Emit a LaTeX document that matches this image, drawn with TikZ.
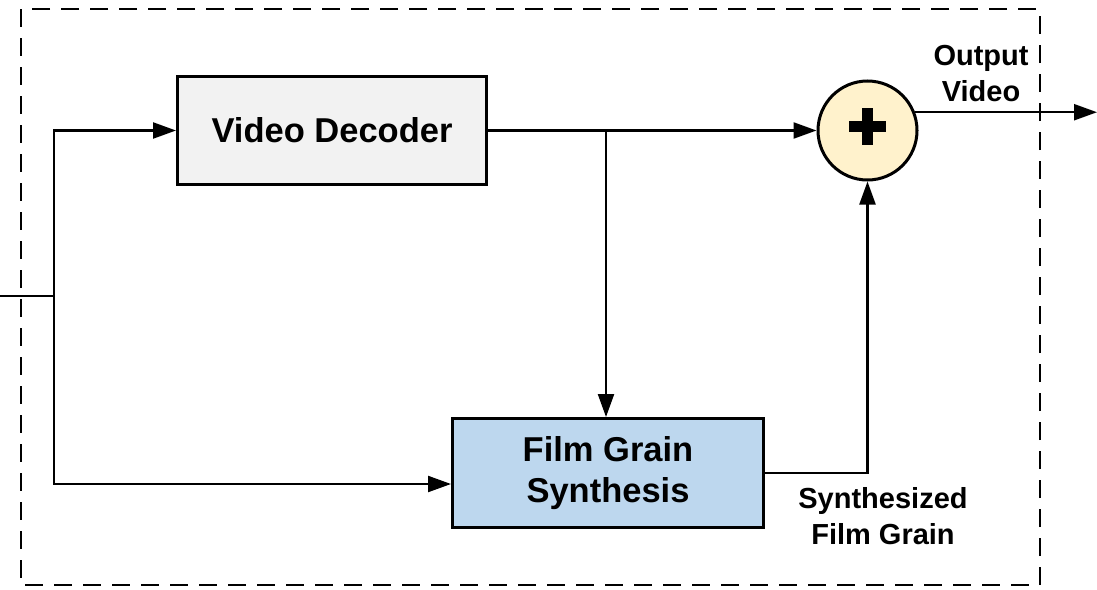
\documentclass[tikz,border=0pt]{standalone}
\usepackage{fontspec}
\setmainfont{Liberation Sans}
\usetikzlibrary{arrows.meta,calc}
\definecolor{decgray}{HTML}{F2F2F2}
\definecolor{fgblue}{HTML}{BDD7EE}
\definecolor{sumyellow}{HTML}{FFF2CC}
\begin{document}
\begin{tikzpicture}[x=1pt,y=-1pt,
  blk/.style={draw, line width=3pt, minimum width=309pt, minimum height=108pt,
    font=\fontsize{34.5}{41}\selectfont\bfseries, align=center, inner sep=0pt},
  conn/.style={line width=2.3pt, -{Triangle[length=23pt,width=16pt]}},
  wire/.style={line width=2.3pt},
  lbl/.style={font=\fontsize{29}{36}\selectfont\bfseries, align=center, inner sep=0pt},
  frame/.style={line width=2.7pt, dash pattern=on 18pt off 11pt}]
\useasboundingbox (0,0) rectangle (1097,589);
% dashed frame
\draw[frame] (21,9) rectangle (1040,585);
% blocks
\node[blk, fill=decgray] (dec) at (332,130.5) {Video Decoder};
\node[blk, fill=fgblue, minimum width=311pt, minimum height=109pt] (fg) at (608,473) {Film Grain\\Synthesis};
\node[draw, circle, line width=3pt, fill=sumyellow, minimum size=99pt, inner sep=0pt] (sum) at (867.5,130.5) {};
% plus sign
\draw[line width=11.5pt] ($(sum.center)+(-18.5,-4)$) -- ($(sum.center)+(18.5,-4)$);
\draw[line width=11.5pt] ($(sum.center)+(0,-22.5)$) -- ($(sum.center)+(0,14.5)$);
% coordinates
\coordinate (in) at (0,296);
\coordinate (j) at (54,296);
\coordinate (b) at (606,130.5);
\coordinate (out) at (1097,112);
% connectors
\draw[wire] (in) -- (j);
\draw[conn] (j) |- (dec.west);
\draw[conn] (j) |- ($(fg.west)+(0,11)$);
\draw[conn] (dec.east) -- (sum.west);
\draw[conn] (b) -- (b |- fg.north);
\draw[conn] (fg.east) -| (sum.south);
\draw[conn] (sum.21) -- (sum.21 -| out);
% labels
\node[lbl] (outlbl) at (981,74) {Output\\Video};
\node[lbl] (synlbl) at (883,516) {Synthesized\\Film Grain};
\end{tikzpicture}
\end{document}
